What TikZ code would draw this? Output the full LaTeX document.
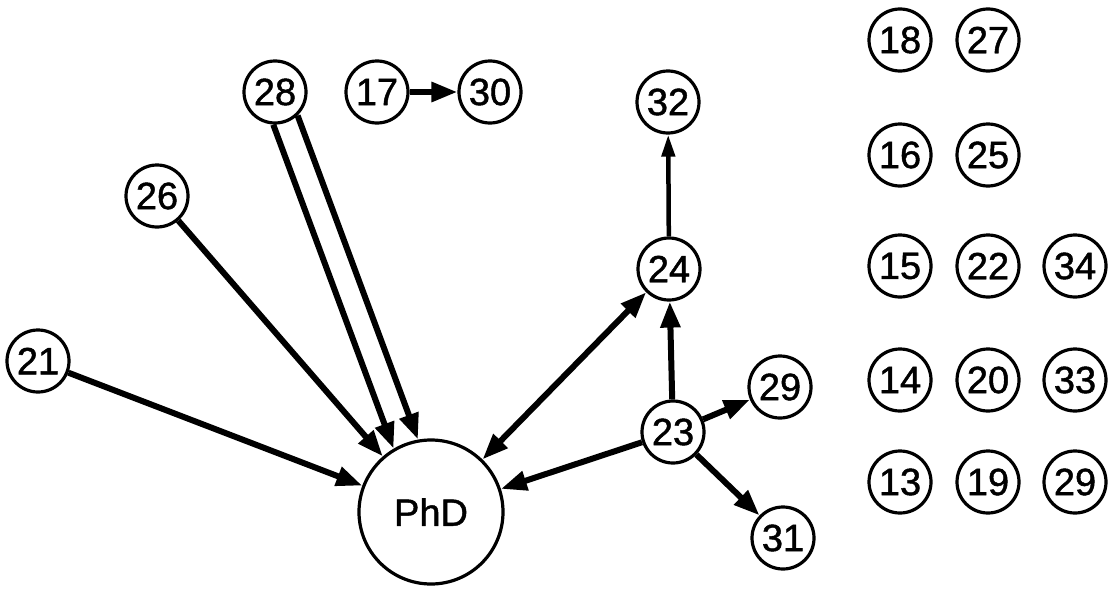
\documentclass[tikz,border=0pt]{standalone}
\usepackage{fontspec}
\setmainfont{Liberation Sans}[FakeBold=1.2]
\usetikzlibrary{arrows.meta,calc}
\begin{document}
\begin{tikzpicture}[x=1pt,y=-1pt,
  nd/.style={circle,draw,line width=3.2pt,minimum size=62pt,inner sep=0pt,font=\fontsize{38}{38}\selectfont},
  big/.style={circle,draw,line width=3.2pt,minimum size=144pt,inner sep=0pt,font=\fontsize{38}{38}\selectfont},
  ar/.style={line width=6pt,-{Triangle[length=26pt,width=19pt]}},
  dar/.style={line width=6pt,{Triangle[length=26pt,width=19pt]}-{Triangle[length=26pt,width=19pt]}}]
\useasboundingbox (0,0) rectangle (1113,589);
% main graph
\node[big] (phd) at (431,512) {PhD};
\node[nd] (n21) at (38,361) {21};
\node[nd] (n26) at (157,196) {26};
\node[nd] (n28) at (275,92) {28};
\node[nd] (n17) at (377,92) {17};
\node[nd] (n30) at (490,92) {30};
\node[nd] (n32) at (668,102) {32};
\node[nd] (n24) at (669,269) {24};
\node[nd] (n23) at (673,432) {23};
\node[nd] (n29a) at (780,387) {29};
\node[nd] (n31) at (783,538) {31};
% isolated nodes
\node[nd] (n18) at (900,40) {18};
\node[nd] (n27) at (988,40) {27};
\node[nd] (n16) at (900,155) {16};
\node[nd] (n25) at (988,155) {25};
\node[nd] (n15) at (900,266) {15};
\node[nd] (n22) at (988,266) {22};
\node[nd] (n34) at (1075,266) {34};
\node[nd] (n14) at (900,380) {14};
\node[nd] (n20) at (988,380) {20};
\node[nd] (n33) at (1075,380) {33};
\node[nd] (n13) at (900,482) {13};
\node[nd] (n19) at (988,482) {19};
\node[nd] (n29b) at (1075,482) {29};
% edges
\draw[ar] (n21) -- (phd);
\draw[ar] (n26) -- (phd);
\draw[ar,shorten <=30pt,shorten >=72.5pt]
  ($(n28.center)!13pt!90:(phd.center)$) -- ($(phd.center)!13pt!-90:(n28.center)$);
\draw[ar,shorten <=30pt,shorten >=72.5pt]
  ($(n28.center)!13pt!-90:(phd.center)$) -- ($(phd.center)!13pt!90:(n28.center)$);
\draw[ar] (n17) -- (n30);
\draw[line width=4.5pt,-{Triangle[length=22pt,width=13pt]}] (n24) -- (n32);
\draw[dar] (n24) -- (phd);
\draw[ar] (n23) -- (n24);
\draw[ar] (n23) -- (phd);
\draw[ar] (n23) -- (n29a);
\draw[ar] (n23) -- (n31);
\end{tikzpicture}
\end{document}
